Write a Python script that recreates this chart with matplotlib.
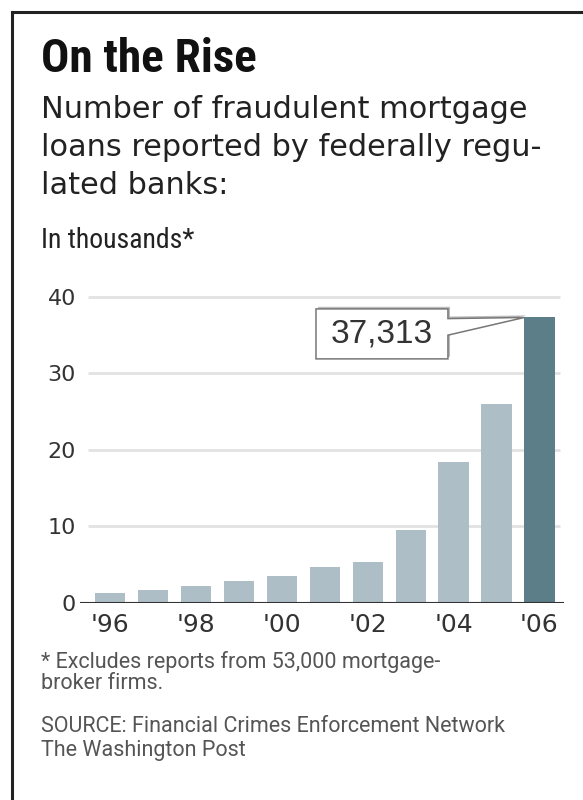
import numpy as np
import matplotlib.pyplot as plt
from matplotlib import font_manager as fm
from matplotlib.patches import Polygon
from matplotlib.lines import Line2D
import matplotlib.patheffects as pe

# data (thousands of reports)
years = ["'96", "'97", "'98", "'99", "'00", "'01", "'02", "'03", "'04", "'05", "'06"]
counts = [1.318, 1.720, 2.269, 2.934, 3.515, 4.696, 5.387, 9.539, 18.391, 25.989, 37.313]
yticks = [0, 10, 20, 30, 40]
label_years = ["'96", "'98", "'00", "'02", "'04", "'06"]
highlight = "37,313"

W, H = 583, 800
fig = plt.figure(figsize=(W / 100, H / 100), dpi=100)


def px(x, y):
    return x / W, 1 - y / H


def narrow_font():
    # look for some condensed face, else fall back to Roboto
    names = {f.name for f in fm.fontManager.ttflist}
    for n in ['Liberation Sans Narrow', 'Roboto Condensed', 'Open Sans Condensed',
              'DejaVu Sans Condensed', 'Noto Sans Condensed']:
        if n in names:
            return dict(family=n)
    for fam in ['DejaVu Sans', 'Noto Sans', 'Open Sans', 'Roboto']:
        for f in fm.fontManager.ttflist:
            if f.name == fam and 'condensed' in str(f.stretch):
                return dict(family=fam, stretch='condensed')
    return dict(family='Roboto')


nf = narrow_font()


def fit(t, width):
    r = fig.canvas.get_renderer()
    w = t.get_window_extent(r).width
    t.set_fontsize(t.get_fontsize() * width / w)
    return t.get_fontsize()


# frame (runs off right / bottom edge)
fig.add_artist(Line2D([11.5 / W, 1.0], [1 - 12 / H, 1 - 12 / H], color='#222', lw=2.2))
fig.add_artist(Line2D([11.5 / W, 11.5 / W], [1 - 12 / H, 0.0], color='#222', lw=2.2))

t = fig.text(*px(41, 72), "On the Rise", weight='bold', fontsize=31,
             color='#111', va='baseline', **nf)
fit(t, 216)

sub = ["Number of fraudulent mortgage", "loans reported by federally regu-", "lated banks:"]
st = [fig.text(*px(41, 118 + 38 * i), s, family='DejaVu Sans', fontsize=20,
               color='#222', va='baseline') for i, s in enumerate(sub)]
fs = fit(st[0], 487)
for s in st[1:]:
    s.set_fontsize(fs)

t = fig.text(*px(41, 248), "In thousands*", fontsize=18, color='#222', va='baseline', **nf)
fit(t, 154)

ax = fig.add_axes([80 / W, 1 - 603 / H, (564 - 80) / W, (603 - 290) / H])
x = np.arange(len(years))
colors = ['#aebec6'] * (len(years) - 1) + ['#5b7e88']
ax.bar(x, counts, width=0.7, color=colors, zorder=2)

ax.set_xlim(-0.69, 10.57)
ax.set_ylim(0, 40.9)
ax.hlines(yticks[1:], -0.51, 10.47, color='#e2e2e2', lw=2, zorder=1)
ax.axhline(0, color='#333', lw=1.5, zorder=3)

for s in ax.spines.values():
    s.set_visible(False)
ax.set_yticks(yticks)
ax.set_yticklabels([str(v) for v in yticks], family='DejaVu Sans', fontsize=16, color='#333')
ax.set_xticks([years.index(y) for y in label_years])
ax.set_xticklabels(label_years, family='DejaVu Sans', fontsize=18, color='#333')
ax.tick_params(length=0)
ax.tick_params(axis='y', pad=3)
ax.tick_params(axis='x', pad=7)

# callout box pointing to the last bar
v = counts[-1]
tip = len(counts) - 1 - 0.35
box = [(4.80, 38.43), (7.87, 38.43), (7.87, v - 0.15), (tip, v),
       (7.87, 35.0), (7.87, 31.9), (4.80, 31.9)]
poly = Polygon(box, closed=True, facecolor='white', edgecolor='#777', lw=1.1, zorder=4,
               path_effects=[pe.SimplePatchShadow(offset=(1.5, 1.5), shadow_rgbFace='#bbb', alpha=1),
                             pe.Normal()])
ax.add_patch(poly)
ax.text(6.33, 35.2, highlight, family='Liberation Sans', fontsize=24, color='#333',
        ha='center', va='center', zorder=5)

foot = [("* Excludes reports from 53,000 mortgage-", 668),
        ("broker firms.", 689),
        ("SOURCE: Financial Crimes Enforcement Network", 732),
        ("The Washington Post", 756)]
ft = [fig.text(*px(41, yy), s, family='Roboto', fontsize=15, color='#555', va='baseline')
      for s, yy in foot]
fs = min(fit(ft[0], 414), 15.5)
for s in ft:
    s.set_fontsize(fs)

fig.savefig('out.png', dpi=100)
